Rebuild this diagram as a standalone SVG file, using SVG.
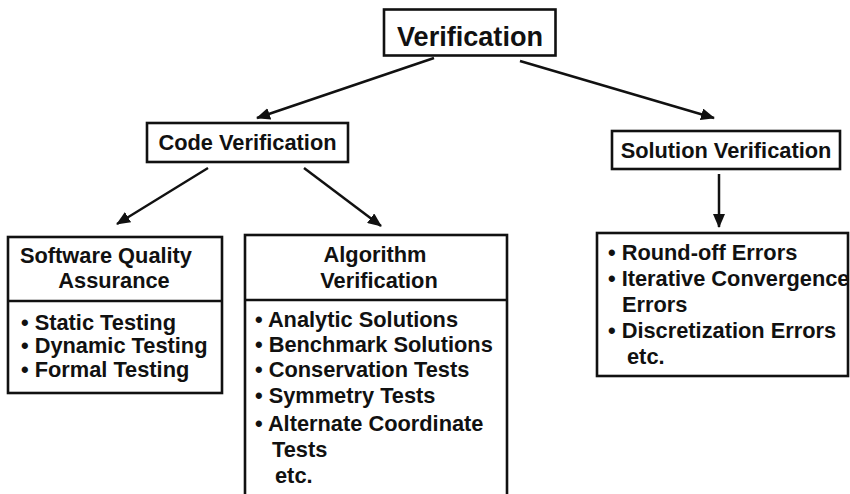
<svg xmlns="http://www.w3.org/2000/svg" width="850" height="494" viewBox="0 0 850 494">
<style>
.box{fill:#fff;stroke:#111;stroke-width:2.6}
.div{stroke:#111;stroke-width:2.4}
.t{font-family:"Liberation Sans",Arial,sans-serif;font-weight:bold;font-size:21.8px;fill:#111}
.c{text-anchor:middle}
.conn{stroke:#111;stroke-width:2.5;fill:none;marker-end:url(#ah)}
</style>
<defs>
<marker id="ah" markerUnits="userSpaceOnUse" markerWidth="14" markerHeight="12" refX="13" refY="6" orient="auto">
<path d="M0,0 L14,6 L0,12 z" fill="#111"/>
</marker>
</defs>
<rect width="850" height="494" fill="#fff"/>
<g id="connectors">
<line class="conn" x1="434" y1="58" x2="257" y2="118"/>
<line class="conn" x1="520" y1="61" x2="714" y2="118"/>
<line class="conn" x1="208" y1="168" x2="117" y2="224"/>
<line class="conn" x1="304" y1="168" x2="381" y2="226"/>
<line class="conn" x1="719" y1="174" x2="719" y2="227"/>
</g>
<g id="verification">
<rect class="box" x="384" y="9.5" width="171.5" height="46"/>
<text class="t c" x="470" y="45.5" style="font-size:28.5px" textLength="146" lengthAdjust="spacingAndGlyphs">Verification</text>
</g>
<g id="code-verification">
<rect class="box" x="147" y="123" width="201" height="39"/>
<text class="t c" x="247.5" y="150">Code Verification</text>
</g>
<g id="solution-verification">
<rect class="box" x="612" y="131" width="228" height="38"/>
<text class="t c" x="726" y="158">Solution Verification</text>
</g>
<g id="software-quality-assurance">
<rect class="box" x="8" y="237" width="214" height="156"/>
<line class="div" x1="8" y1="301" x2="222" y2="301"/>
<text class="t" x="20" y="263">Software Quality</text>
<text class="t c" x="114" y="288">Assurance</text>
<text class="t" x="21" y="330">• Static Testing</text>
<text class="t" x="21" y="353">• Dynamic Testing</text>
<text class="t" x="21" y="377">• Formal Testing</text>
</g>
<g id="algorithm-verification">
<rect class="box" x="245" y="235" width="262" height="275"/>
<line class="div" x1="245" y1="300" x2="507" y2="300"/>
<text class="t c" x="375" y="262">Algorithm</text>
<text class="t c" x="379" y="288">Verification</text>
<text class="t" x="255" y="327">• Analytic Solutions</text>
<text class="t" x="255" y="352">• Benchmark Solutions</text>
<text class="t" x="255" y="377">• Conservation Tests</text>
<text class="t" x="255" y="403">• Symmetry Tests</text>
<text class="t" x="255" y="431">• Alternate Coordinate</text>
<text class="t" x="272" y="457">Tests</text>
<text class="t" x="275" y="483">etc.</text>
</g>
<g id="solution-errors">
<rect class="box" x="597" y="233" width="251" height="143"/>
<text class="t" x="608" y="260">• Round-off Errors</text>
<text class="t" x="608" y="286">• Iterative Convergence</text>
<text class="t" x="622" y="312">Errors</text>
<text class="t" x="608" y="338">• Discretization Errors</text>
<text class="t" x="627" y="364">etc.</text>
</g>
</svg>
